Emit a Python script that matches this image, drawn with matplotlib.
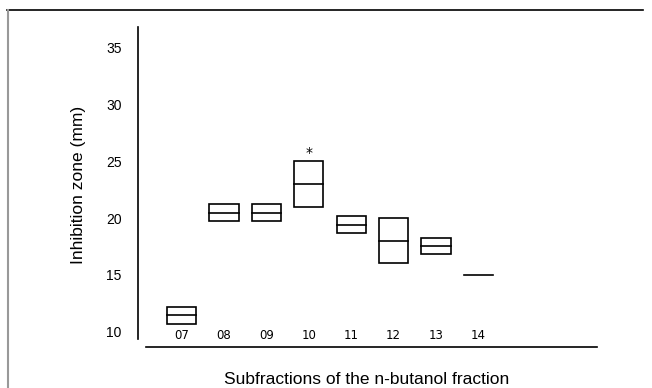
import matplotlib.pyplot as plt
from matplotlib.lines import Line2D

# subfractions and inhibition zone values (mm): min, median, max
subfractions = ['07', '08', '09', '10', '11', '12', '13', '14']
zone_min = [10.7, 19.7, 19.7, 21.0, 18.7, 16.0, 16.8, 15.0]
zone_med = [11.5, 20.4, 20.4, 23.0, 19.4, 18.0, 17.5, 15.0]
zone_max = [12.2, 21.2, 21.2, 25.0, 20.2, 20.0, 18.2, 15.0]
yticks = [10, 15, 20, 25, 30, 35]
significant = '10'

fig = plt.figure(figsize=(6.52, 3.88), dpi=100)
ax = fig.add_axes([0.2124, 0.1064, 0.704, 0.824])

box_w = 0.69
for i, name in enumerate(subfractions):
    lo, med, hi = zone_min[i], zone_med[i], zone_max[i]
    if hi > lo:
        ax.add_patch(plt.Rectangle((i - box_w / 2, lo), box_w, hi - lo,
                                   fill=False, edgecolor='black', lw=1.2))
    ax.plot([i - box_w / 2, i + box_w / 2], [med, med], color='black', lw=1.2)
    if name == significant:
        ax.text(i, hi + 0.1, '*', ha='center', va='bottom', fontsize=10)

ax.set_xlim(-1.02, 9.81)
ax.set_ylim(8.68, 36.8)

for s in ['top', 'right']:
    ax.spines[s].set_visible(False)
ax.spines['left'].set_bounds(9.33, 36.8)
ax.spines['bottom'].set_bounds(-0.85, 9.81)
ax.spines['left'].set_linewidth(1.2)
ax.spines['bottom'].set_linewidth(1.2)

ax.set_xticks(range(len(subfractions)))
ax.set_xticklabels(subfractions, fontsize=8.5, fontfamily='DejaVu Sans')
ax.tick_params(axis='x', length=0, pad=-13)
ax.set_yticks(yticks)
ax.set_yticklabels([str(v) for v in yticks], fontsize=10,
                   fontfamily=['Liberation Sans Narrow', 'Liberation Sans'])
ax.tick_params(axis='y', length=0, pad=12)

fig.text(79 / 652, 1 - 185 / 388, 'Inhibition zone (mm)', rotation=90,
         ha='center', va='center', fontsize=12.5, fontfamily='Liberation Sans')
fig.text(367 / 652, 1 - 379 / 388, 'Subfractions of the n-butanol fraction',
         ha='center', va='center', fontsize=12.5, fontfamily='Liberation Sans')

# frame around the figure
fig.add_artist(Line2D([7 / 652, 643 / 652], [1 - 9.5 / 388, 1 - 9.5 / 388],
                      transform=fig.transFigure, color='black', lw=1.2))
fig.add_artist(Line2D([7.5 / 652, 7.5 / 652], [0, 1 - 9.5 / 388],
                      transform=fig.transFigure, color='#999999', lw=1.5))

fig.savefig('out.png', dpi=100)
